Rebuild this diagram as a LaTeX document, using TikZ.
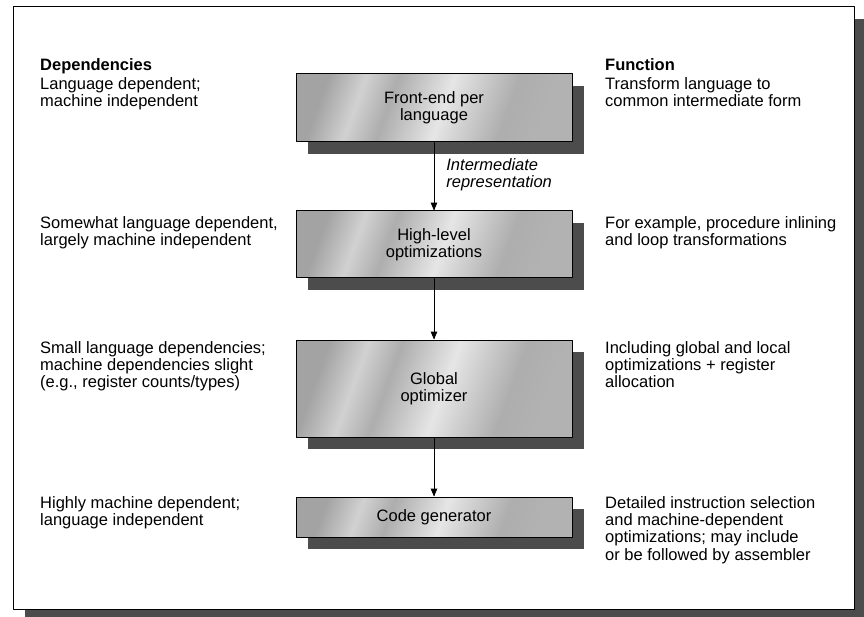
\documentclass[tikz,border=0pt]{standalone}
\usepackage{fontspec}
\setmainfont{Liberation Sans}
\usetikzlibrary{arrows,shadows}
\pgfdeclarehorizontalshading{metal}{100bp}{color(0bp)=(black!36); color(25bp)=(black!36);
  color(33bp)=(black!18); color(40bp)=(black!32); color(52bp)=(black!10);
  color(66bp)=(black!32); color(75bp)=(black!30); color(100bp)=(black!30)}

\begin{document}
\begin{tikzpicture}[line cap=round,line join=round,>=triangle 45,x=1pt,y=-1pt,
  every node/.style={font=\fontsize{16.5}{17.3}\selectfont},
  stage/.style={draw=black,line width=1pt,minimum width=276pt,align=center,
    shading=metal,shading angle=-20,
    drop shadow={shadow xshift=12pt,shadow yshift=-12pt,fill=black!70,opacity=1}},
  note/.style={anchor=north west,inner sep=0pt,align=left},
  head/.style={note,font=\fontsize{16.5}{17.3}\selectfont\bfseries}]
\useasboundingbox (0,0) rectangle (864,617);
% frame
\draw[line width=1pt,fill=white,drop shadow={shadow xshift=12pt,shadow yshift=-12pt,fill=black!70,opacity=1}] (13,7) rectangle (854,609);
% stages
\node[stage,minimum height=68pt] (front) at (434,108) {Front-end per\\language};
\node[stage,minimum height=67pt] (high) at (434,244.5) {High-level\\optimizations};
\node[stage,minimum height=97pt] (glob) at (434,388.5) {Global\\optimizer};
\node[stage,minimum height=40pt] (codegen) at (434,517) {Code generator};
\draw[->,line width=0.8pt] (front) -- node[note,anchor=west,xshift=12pt,yshift=2pt,font=\fontsize{16.5}{17.3}\selectfont\itshape] {Intermediate\\representation} (high);
\draw[->,line width=0.8pt] (high) -- (glob);
\draw[->,line width=0.8pt] (glob) -- (codegen);
% dependencies
\node[head] (dephead) at (40,58) {Dependencies};
\node[note] (dep1) at (40,77) {Language dependent;\\machine independent};
\node[note] (dep2) at (40,216) {Somewhat language dependent,\\largely machine independent};
\node[note] (dep3) at (40,341) {Small language dependencies;\\machine dependencies slight\\(e.g., register counts/types)};
\node[note] (dep4) at (40,496) {Highly machine dependent;\\language independent};
% functions
\node[head] (funhead) at (605,58) {Function};
\node[note] (fun1) at (605,77) {Transform language to\\common intermediate form};
\node[note] (fun2) at (605,216) {For example, procedure inlining\\and loop transformations};
\node[note] (fun3) at (605,341) {Including global and local\\optimizations + register\\allocation};
\node[note] (fun4) at (605,496) {Detailed instruction selection\\and machine-dependent\\optimizations; may include\\or be followed by assembler};
\end{tikzpicture}
\end{document}
